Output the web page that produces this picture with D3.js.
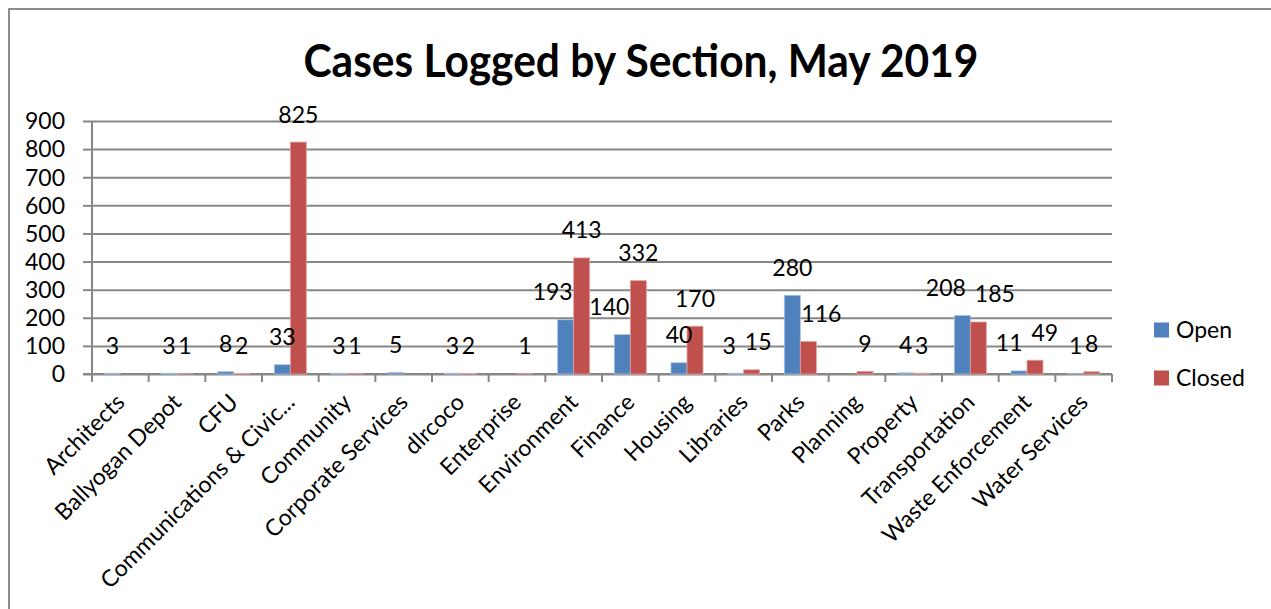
<!DOCTYPE html>
<html>
<head>
<meta charset="utf-8">
<script src="https://cdn.jsdelivr.net/npm/d3@7"></script>
<style>
  html, body { margin: 0; padding: 0; background: #fff; }
  svg { display: block; font-family: Lato, "Open Sans", sans-serif; }
</style>
</head>
<body>
<svg id="chart" width="1271" height="609"></svg>
<script>
const categories = ["Architects", "Ballyogan Depot", "CFU", "Communications & Civic...", "Community",
  "Corporate Services", "dlrcoco", "Enterprise", "Environment", "Finance", "Housing", "Libraries",
  "Parks", "Planning", "Property", "Transportation", "Waste Enforcement", "Water Services"];
const openValues   = [3, 3, 8, 33, 3, 5, 3, null, 193, 140, 40, 3, 280, null, 4, 208, 11, 1];
const closedValues = [null, 1, 2, 825, 1, null, 2, 1, 413, 332, 170, 15, 116, 9, 3, 185, 49, 8];
const seriesNames = ["Open", "Closed"];
const seriesColors = ["#4F81BD", "#C0504D"];
const yTicks = [0, 100, 200, 300, 400, 500, 600, 700, 800, 900];
const titleText = "Cases Logged by Section, May 2019";

(function () {
const svg = d3.select("#chart");
const W = 1271, H = 609;
const pLeft = 92, pRight = 1112, pTop = 121, pBottom = 374;
const gridColor = "#878787";
const fontSize = 23;

// outer border
svg.append("rect").attr("x", 9).attr("y", 9).attr("width", W + 10).attr("height", H + 10)
  .attr("fill", "#fff").attr("stroke", "#8c8c8c").attr("stroke-width", 2);

// title (condensed to mimic the original's narrow face)
const title = svg.append("text").attr("x", 641).attr("y", 77).attr("text-anchor", "middle")
  .attr("font-size", 45).attr("font-weight", "bold").attr("fill", "#000").text(titleText);
const tw = title.node().getComputedTextLength();
if (tw > 675) title.attr("textLength", 675).attr("lengthAdjust", "spacingAndGlyphs");

const x = d3.scaleBand().domain(categories).range([pLeft, pRight]).paddingInner(0).paddingOuter(0);
const y = d3.scaleLinear().domain([0, 900]).range([pBottom, pTop]);
const barW = 16;
const xs = d3.scaleBand().domain(seriesNames).range([0, barW * 2]);

// gridlines + y ticks
const yAxis = d3.axisLeft(y).tickValues(yTicks).tickSize(-(pRight - pLeft)).tickFormat("");
const gy = svg.append("g").attr("transform", `translate(${pLeft},0)`).call(yAxis);
gy.selectAll(".tick line").attr("stroke", gridColor).attr("stroke-width", 2);
gy.select(".domain").remove();
gy.selectAll(".tick").append("line").attr("x1", -9).attr("x2", 0).attr("stroke", gridColor).attr("stroke-width", 2);
svg.append("line").attr("x1", pLeft).attr("x2", pLeft).attr("y1", pTop).attr("y2", pBottom)
  .attr("stroke", gridColor).attr("stroke-width", 2);

svg.append("g").selectAll("text").data(yTicks).join("text")
  .attr("x", 65).attr("y", d => y(d)).attr("dy", "0.36em").attr("text-anchor", "end")
  .attr("font-size", fontSize).attr("fill", "#000").text(d => d);

// x axis
svg.append("line").attr("x1", pLeft - 9).attr("x2", pRight).attr("y1", pBottom).attr("y2", pBottom)
  .attr("stroke", gridColor).attr("stroke-width", 2);
const bounds = categories.map(c => x(c)).concat([pRight]);
svg.append("g").selectAll("line").data(bounds).join("line")
  .attr("x1", d => d).attr("x2", d => d).attr("y1", pBottom).attr("y2", pBottom + 8)
  .attr("stroke", gridColor).attr("stroke-width", 2);

svg.append("g").selectAll("text").data(categories).join("text")
  .attr("text-anchor", "end").attr("font-size", fontSize).attr("fill", "#000")
  .attr("dy", "0.35em")
  .attr("transform", d => `translate(${x(d) + x.bandwidth() / 2},${pBottom + 24}) rotate(-45)`)
  .text(d => d);

// bars
const seriesData = [openValues, closedValues];
const bars = [];
seriesData.forEach((vals, si) => {
  vals.forEach((v, i) => {
    if (v === null) return;
    const c = categories[i];
    const bx = x(c) + (x.bandwidth() - barW * 2) / 2 + xs(seriesNames[si]);
    bars.push({ si, i, v, x0: bx, x1: bx + barW, top: y(v) });
  });
});
svg.append("g").selectAll("rect").data(bars).join("rect")
  .attr("x", d => d.x0).attr("width", barW)
  .attr("y", d => d.top).attr("height", d => pBottom - d.top)
  .attr("fill", d => seriesColors[d.si])
  .attr("stroke", d => d.si === 0 ? "#a9c1e0" : "#e0a3a1").attr("stroke-width", 0.8);

// data labels with simple overlap avoidance
const labelG = svg.append("g");
const labels = bars.map(b => {
  const t = labelG.append("text").attr("font-size", fontSize).attr("text-anchor", "middle")
    .attr("fill", "#000").text(b.v);
  const w = t.node().getComputedTextLength();
  const base = b.top - 19.5;
  return { b, t, w, cx: (b.x0 + b.x1) / 2, base, topY: base - 16, botY: base };
});
const byCat = d3.group(labels, l => l.b.i);
byCat.forEach(ls => {
  if (ls.length < 2) return;
  const o = ls.find(l => l.b.si === 0), c = ls.find(l => l.b.si === 1);
  let ov = (o.cx + o.w / 2) - c.b.x0;
  if (ov > 6 && o.botY > c.b.top) o.cx -= ov + 1;
  ov = o.b.x1 - (c.cx - c.w / 2);
  if (ov > 6 && c.botY > o.b.top) c.cx += ov + 1;
  const hov = (o.cx + o.w / 2) - (c.cx - c.w / 2);
  const vov = Math.min(o.botY, c.botY) - Math.max(o.topY, c.topY);
  if (hov > 0 && vov > 0) {
    const s = (hov + 9) / 2;
    o.cx -= s; c.cx += s;
  }
});
labels.forEach(l => l.t.attr("x", l.cx).attr("y", l.base));

// legend
const lg = svg.append("g");
seriesNames.forEach((n, i) => {
  const ly = 330 + i * 48;
  lg.append("rect").attr("x", 1154).attr("y", ly - 7.5).attr("width", 15).attr("height", 15)
    .attr("fill", seriesColors[i]);
  lg.append("text").attr("x", 1176).attr("y", ly).attr("dy", "0.36em")
    .attr("font-size", fontSize).attr("fill", "#000").text(n);
});
})();
</script>
</body>
</html>
